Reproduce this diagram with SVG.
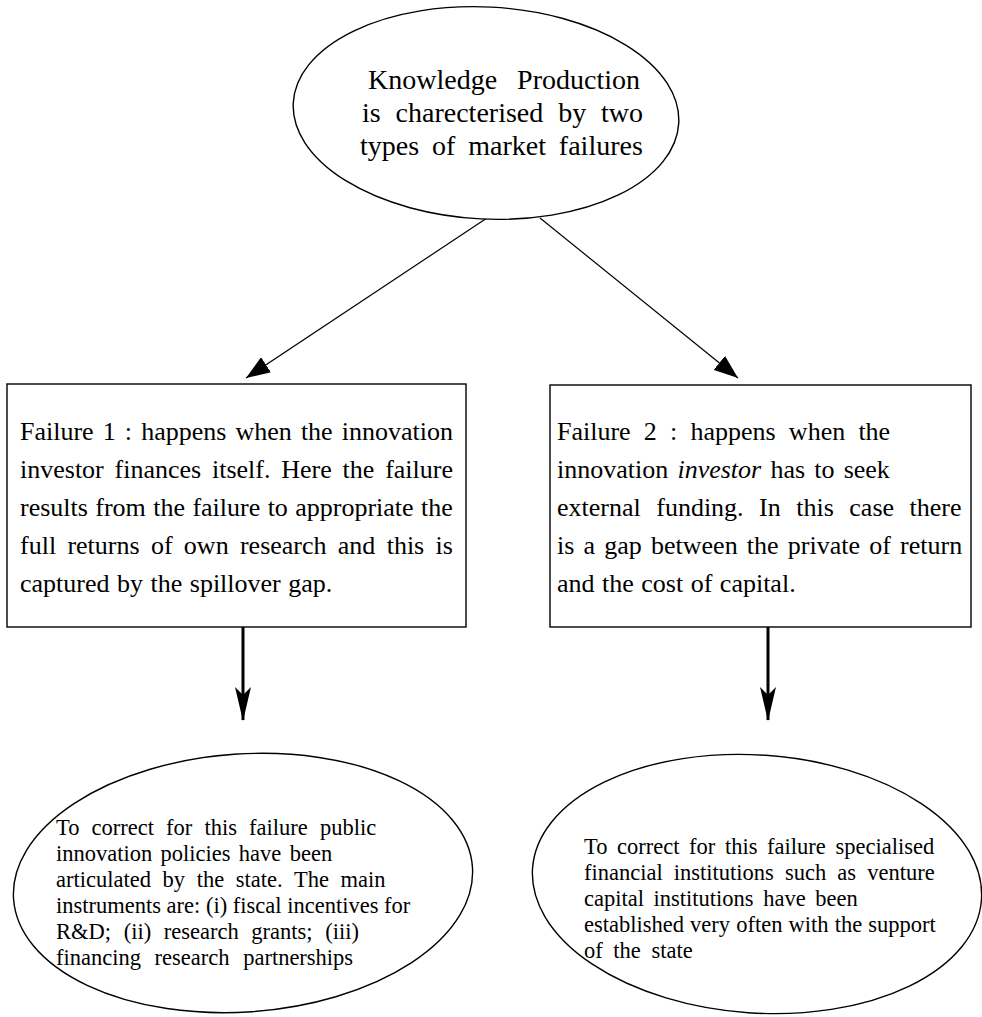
<svg xmlns="http://www.w3.org/2000/svg" width="982" height="1017" viewBox="0 0 982 1017">
<style>
.shape{fill:#fff;stroke:#000;stroke-width:1.4}
.t{font-family:"Liberation Serif","Times New Roman",serif;fill:#000}
.big{font-size:28px}
.mid{font-size:26px}
.sm{font-size:22.5px}
.thin{stroke:#000;stroke-width:1.2;fill:none}
.thick{stroke:#000;stroke-width:3;fill:none}
</style>
<defs>
<marker id="tri" markerUnits="userSpaceOnUse" viewBox="0 0 24 18" markerWidth="24" markerHeight="18" refX="24" refY="9" orient="auto">
<path d="M0,0 L24,9 L0,18 z" fill="#000"/>
</marker>
<marker id="barb" markerUnits="userSpaceOnUse" viewBox="0 0 34 16" markerWidth="34" markerHeight="16" refX="33" refY="8" orient="auto">
<path d="M0,0 L34,8 L0,16 L8,8 z" fill="#000"/>
</marker>
</defs>
<rect width="982" height="1017" fill="#fff"/>
<g id="connectors">
<line class="thin" x1="487" y1="218" x2="246" y2="378" marker-end="url(#tri)"/>
<line class="thin" x1="540" y1="218" x2="738" y2="378" marker-end="url(#tri)"/>
<line class="thick" x1="243" y1="627" x2="243" y2="720" marker-end="url(#barb)"/>
<line class="thick" x1="768" y1="627" x2="768" y2="720" marker-end="url(#barb)"/>
</g>
<g id="node-knowledge">
<ellipse class="shape" cx="486" cy="113" rx="193" ry="106" transform="rotate(3 486 113)"/>
<text class="t big" x="368" y="89" style="word-spacing:13px">Knowledge Production</text>
<text class="t big" x="362" y="122" style="word-spacing:7.9px">is charecterised by two</text>
<text class="t big" x="360" y="155" style="word-spacing:5.9px">types of market failures</text>
</g>
<g id="node-failure1">
<rect class="shape" x="7" y="384" width="459" height="243"/>
<text class="t mid" x="20" y="440" style="word-spacing:2.6px">Failure 1 : happens when the innovation</text>
<text class="t mid" x="20" y="478" style="word-spacing:4.3px">investor finances itself. Here the failure</text>
<text class="t mid" x="20" y="516" style="word-spacing:0.9px">results from the failure to appropriate the</text>
<text class="t mid" x="20" y="554" style="word-spacing:4.8px">full returns of own research and this is</text>
<text class="t mid" x="20" y="592" style="word-spacing:1px">captured by the spillover gap.</text>
</g>
<g id="node-failure2">
<rect class="shape" x="550" y="385" width="421" height="242"/>
<text class="t mid" x="557" y="440" style="word-spacing:6.7px">Failure 2 : happens when the</text>
<text class="t mid" x="557" y="478" style="word-spacing:2.7px">innovation <tspan font-style="italic">investor</tspan> has to seek</text>
<text class="t mid" x="557" y="516" style="word-spacing:9px">external funding. In this case there</text>
<text class="t mid" x="557" y="554" style="word-spacing:2.7px">is a gap between the private of return</text>
<text class="t mid" x="557" y="592" style="word-spacing:1px">and the cost of capital.</text>
</g>
<g id="node-policies">
<ellipse class="shape" cx="243" cy="883" rx="230" ry="129" transform="rotate(-4 243 883)"/>
<text class="t sm" x="56" y="835" style="word-spacing:6.5px">To correct for this failure public</text>
<text class="t sm" x="56" y="861" style="word-spacing:2.7px">innovation policies have been</text>
<text class="t sm" x="56" y="887" style="word-spacing:6px">articulated by the state. The main</text>
<text class="t sm" x="56" y="913" style="word-spacing:0px">instruments are: (i) fiscal incentives for</text>
<text class="t sm" x="56" y="939" style="word-spacing:7px">R&amp;D; (ii) research grants; (iii)</text>
<text class="t sm" x="56" y="965" style="word-spacing:8px">financing research partnerships</text>
</g>
<g id="node-venture">
<ellipse class="shape" cx="757" cy="884" rx="225" ry="129" transform="rotate(4 757 884)"/>
<text class="t sm" x="584" y="854" style="word-spacing:4px">To correct for this failure specialised</text>
<text class="t sm" x="584" y="880" style="word-spacing:5.5px">financial institutions such as venture</text>
<text class="t sm" x="584" y="906" style="word-spacing:4px">capital institutions have been</text>
<text class="t sm" x="584" y="932" style="word-spacing:0.5px">established very often with the support</text>
<text class="t sm" x="584" y="958" style="word-spacing:5px">of the state</text>
</g>
</svg>
